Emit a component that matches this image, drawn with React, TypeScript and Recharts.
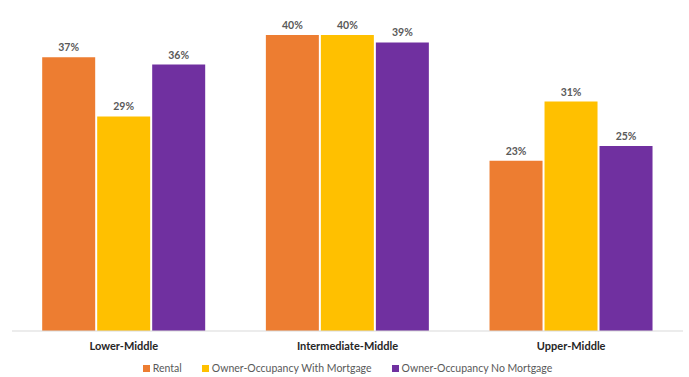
import React from "react";
import { BarChart, Bar, XAxis, YAxis, Legend, LabelList } from "recharts";

const categories = ["Lower-Middle", "Intermediate-Middle", "Upper-Middle"];
const rental = [37, 40, 23];
const withMortgage = [29, 40, 31];
const noMortgage = [36, 39, 25];

const seriesInfo = [
  { key: "rental", name: "Rental", color: "#ED7D31" },
  { key: "withMortgage", name: "Owner-Occupancy With Mortgage", color: "#FFC000" },
  { key: "noMortgage", name: "Owner-Occupancy No Mortgage", color: "#7030A0" },
];

const data = categories.map((c, i) => ({
  category: c,
  rental: rental[i],
  withMortgage: withMortgage[i],
  noMortgage: noMortgage[i],
}));

const FONT = "Lato, 'Open Sans', sans-serif";

function LegendBox() {
  return (
    <div
      style={{
        height: 26,
        display: "flex",
        justifyContent: "center",
        alignItems: "flex-end",
        paddingBottom: 3,
        boxSizing: "border-box",
        fontFamily: FONT,
        fontSize: 10.5,
        color: "#595959",
        gap: 20,
      }}
    >
      {seriesInfo.map((s) => (
        <div key={s.key} style={{ display: "flex", alignItems: "center" }}>
          <span style={{ width: 7, height: 7, background: s.color, display: "inline-block", marginRight: 3 }} />
          <span>{s.name}</span>
        </div>
      ))}
    </div>
  );
}

export default function App() {
  return (
    <div style={{ position: "absolute", left: 0, top: 0, width: 689, height: 377, background: "#fff" }}>
      <BarChart
        width={689}
        height={377}
        data={data}
        margin={{ top: 35, right: 6, left: 12, bottom: 0 }}
        barCategoryGap="13.5%"
        barGap={2}
      >
        <YAxis hide domain={[0, 40]} />
        <XAxis
          dataKey="category"
          height={20}
          axisLine={{ stroke: "#D9D9D9" }}
          tickLine={false}
          tickSize={0}
          tickMargin={11}
          tick={{ fontFamily: FONT, fontSize: 11, fontWeight: 700, fill: "#262626" }}
        />
        <Legend verticalAlign="bottom" height={26} content={<LegendBox />} />
        {seriesInfo.map((s) => (
          <Bar key={s.key} dataKey={s.key} name={s.name} fill={s.color} isAnimationActive={false}>
            <LabelList
              dataKey={s.key}
              position="top"
              offset={6}
              formatter={(v: number) => `${v}%`}
              style={{ fontFamily: FONT, fontSize: 10.5, fontWeight: 700, fill: "#595959" }}
            />
          </Bar>
        ))}
      </BarChart>
    </div>
  );
}
